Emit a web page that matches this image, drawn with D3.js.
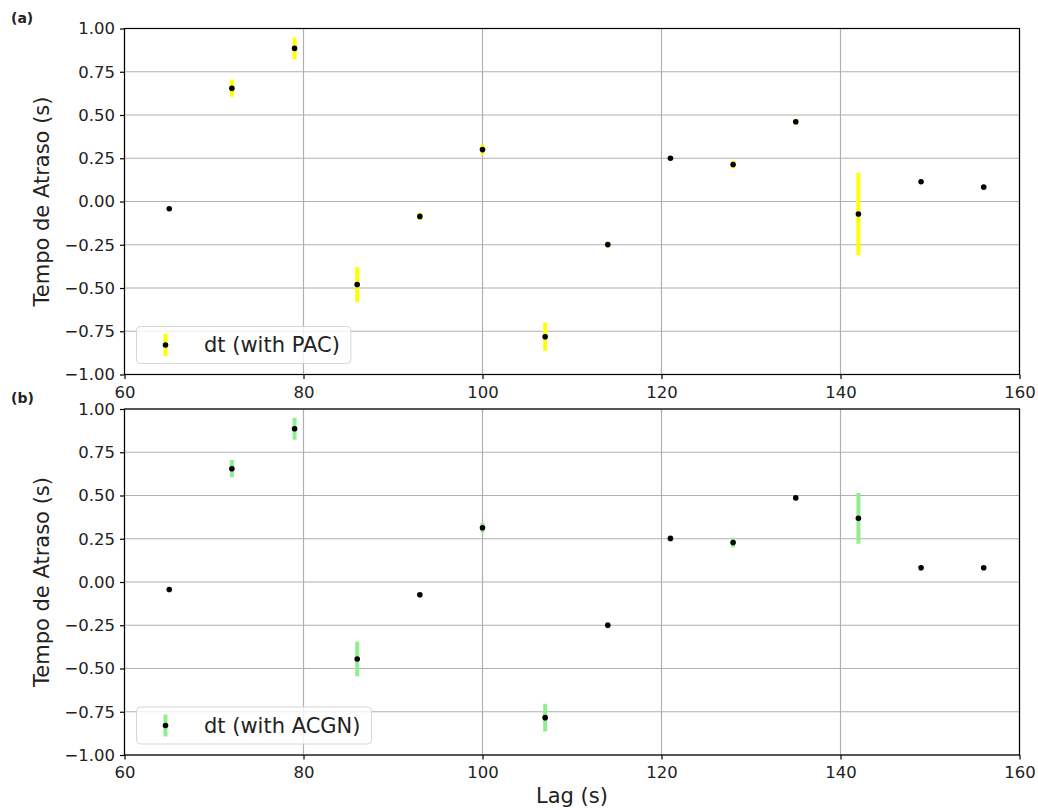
<!DOCTYPE html>
<html>
<head>
<meta charset="utf-8">
<script src="https://cdn.jsdelivr.net/npm/d3@7"></script>
<style>
  html, body { margin: 0; padding: 0; background: #ffffff; }
  svg { display: block; font-family: "DejaVu Sans", sans-serif; }
</style>
</head>
<body>
<svg id="chart" width="1038" height="810"></svg>
<script>
// Lag values (s), shared by both panels
const lags = [65, 72, 79, 86, 93, 100, 107, 114, 121, 128, 135, 142, 149, 156];

// Panel (a): delay with PAC
const dtPAC    = [-0.042, 0.655, 0.885, -0.48, -0.086, 0.300, -0.782, -0.249, 0.250, 0.214, 0.461, -0.072, 0.114, 0.083];
const errPAC   = [0, 0.050, 0.063, 0.102, 0.021, 0.029, 0.082, 0.016, 0, 0.022, 0.016, 0.238, 0, 0];

// Panel (b): delay with ACGN
const dtACGN   = [-0.043, 0.655, 0.886, -0.445, -0.074, 0.314, -0.784, -0.250, 0.252, 0.228, 0.486, 0.368, 0.082, 0.082];
const errACGN  = [0, 0.050, 0.063, 0.100, 0.012, 0.027, 0.080, 0.019, 0, 0.028, 0.008, 0.147, 0, 0];

// Axis ticks
const xTicks = [60, 80, 100, 120, 140, 160];
const yTicks = [-1.00, -0.75, -0.50, -0.25, 0.00, 0.25, 0.50, 0.75, 1.00];

const svg = d3.select("#chart");
const left = 124.5, right = 1019.5;
const x = d3.scaleLinear().domain([60, 160]).range([left, right]);

function panel(opts) {
  const { top, bottom, values, errors, color, label, legendText, showXLabel } = opts;
  const y = d3.scaleLinear().domain([-1, 1]).range([bottom, top]);
  const g = svg.append("g");

  // grid
  g.append("g").selectAll("line.vg").data(xTicks).join("line")
    .attr("x1", d => x(d)).attr("x2", d => x(d))
    .attr("y1", top).attr("y2", bottom)
    .attr("stroke", "#b0b0b0").attr("stroke-width", 1.2);
  g.append("g").selectAll("line.hg").data(yTicks).join("line")
    .attr("x1", left).attr("x2", right)
    .attr("y1", d => y(d)).attr("y2", d => y(d))
    .attr("stroke", "#b0b0b0").attr("stroke-width", 1.2);

  // axes
  const xAxis = d3.axisBottom(x).tickValues(xTicks).tickFormat(d3.format("d"))
    .tickSize(4.5).tickPadding(7);
  const yAxis = d3.axisLeft(y).tickValues(yTicks).tickFormat(d3.format(".2f"))
    .tickSize(4.5).tickPadding(5);

  const gx = g.append("g").attr("transform", `translate(0,${bottom})`).call(xAxis);
  const gy = g.append("g").attr("transform", `translate(${left},0)`).call(yAxis);
  [gx, gy].forEach(a => {
    a.select(".domain").remove();
    a.selectAll("line").attr("stroke", "#000").attr("stroke-width", 1.2);
    a.selectAll("text").attr("font-size", "16.5px").attr("fill", "#222")
      .attr("font-family", "DejaVu Sans, sans-serif");
  });

  // frame
  g.append("rect").attr("x", left).attr("y", top)
    .attr("width", right - left).attr("height", bottom - top)
    .attr("fill", "none").attr("stroke", "#000").attr("stroke-width", 1.2);

  // error bars
  const data = lags.map((l, i) => ({ x: l, y: values[i], e: errors[i] }));
  g.append("g").selectAll("line").data(data.filter(d => d.e > 0)).join("line")
    .attr("x1", d => x(d.x)).attr("x2", d => x(d.x))
    .attr("y1", d => y(d.y - d.e)).attr("y2", d => y(d.y + d.e))
    .attr("stroke", color).attr("stroke-width", 4);

  // points
  g.append("g").selectAll("circle").data(data).join("circle")
    .attr("cx", d => x(d.x)).attr("cy", d => y(d.y)).attr("r", 2.8)
    .attr("fill", "#000");

  // y label
  g.append("text")
    .attr("transform", `translate(49,${(top + bottom) / 2}) rotate(-90)`)
    .attr("text-anchor", "middle").attr("font-size", "21px").attr("fill", "#222")
    .text("Tempo de Atraso (s)");

  // panel label
  g.append("text").attr("x", 11).attr("y", top - 6)
    .attr("font-size", "14px").attr("font-weight", "bold").attr("fill", "#222")
    .text(label);

  // legend
  const lg = g.append("g");
  const cy = bottom - 29.5;
  const box = lg.append("rect")
    .attr("x", left + 12).attr("y", cy - 18.5).attr("height", 37)
    .attr("rx", 4).attr("ry", 4)
    .attr("fill", "#ffffff").attr("fill-opacity", 0.8)
    .attr("stroke", "#d6d6d6").attr("stroke-width", 1);
  lg.append("line")
    .attr("x1", left + 41).attr("x2", left + 41)
    .attr("y1", cy - 11).attr("y2", cy + 11)
    .attr("stroke", color).attr("stroke-width", 4);
  lg.append("circle").attr("cx", left + 41).attr("cy", cy).attr("r", 2.8).attr("fill", "#000");
  const t = lg.append("text").attr("x", left + 79.5).attr("y", cy + 7)
    .attr("font-size", "21px").attr("fill", "#222").text(legendText);
  const tw = t.node().getComputedTextLength();
  box.attr("width", (left + 79.5 + tw + 11) - (left + 12));

  if (showXLabel) {
    g.append("text").attr("x", (left + right) / 2).attr("y", bottom + 47.5)
      .attr("text-anchor", "middle").attr("font-size", "21px").attr("fill", "#222")
      .text("Lag (s)");
  }
}

panel({ top: 28.5, bottom: 374.5, values: dtPAC, errors: errPAC, color: "#ffff00",
        label: "(a)", legendText: "dt (with PAC)", showXLabel: false });
panel({ top: 409, bottom: 755, values: dtACGN, errors: errACGN, color: "#90ee90",
        label: "(b)", legendText: "dt (with ACGN)", showXLabel: true });
</script>
</body>
</html>
